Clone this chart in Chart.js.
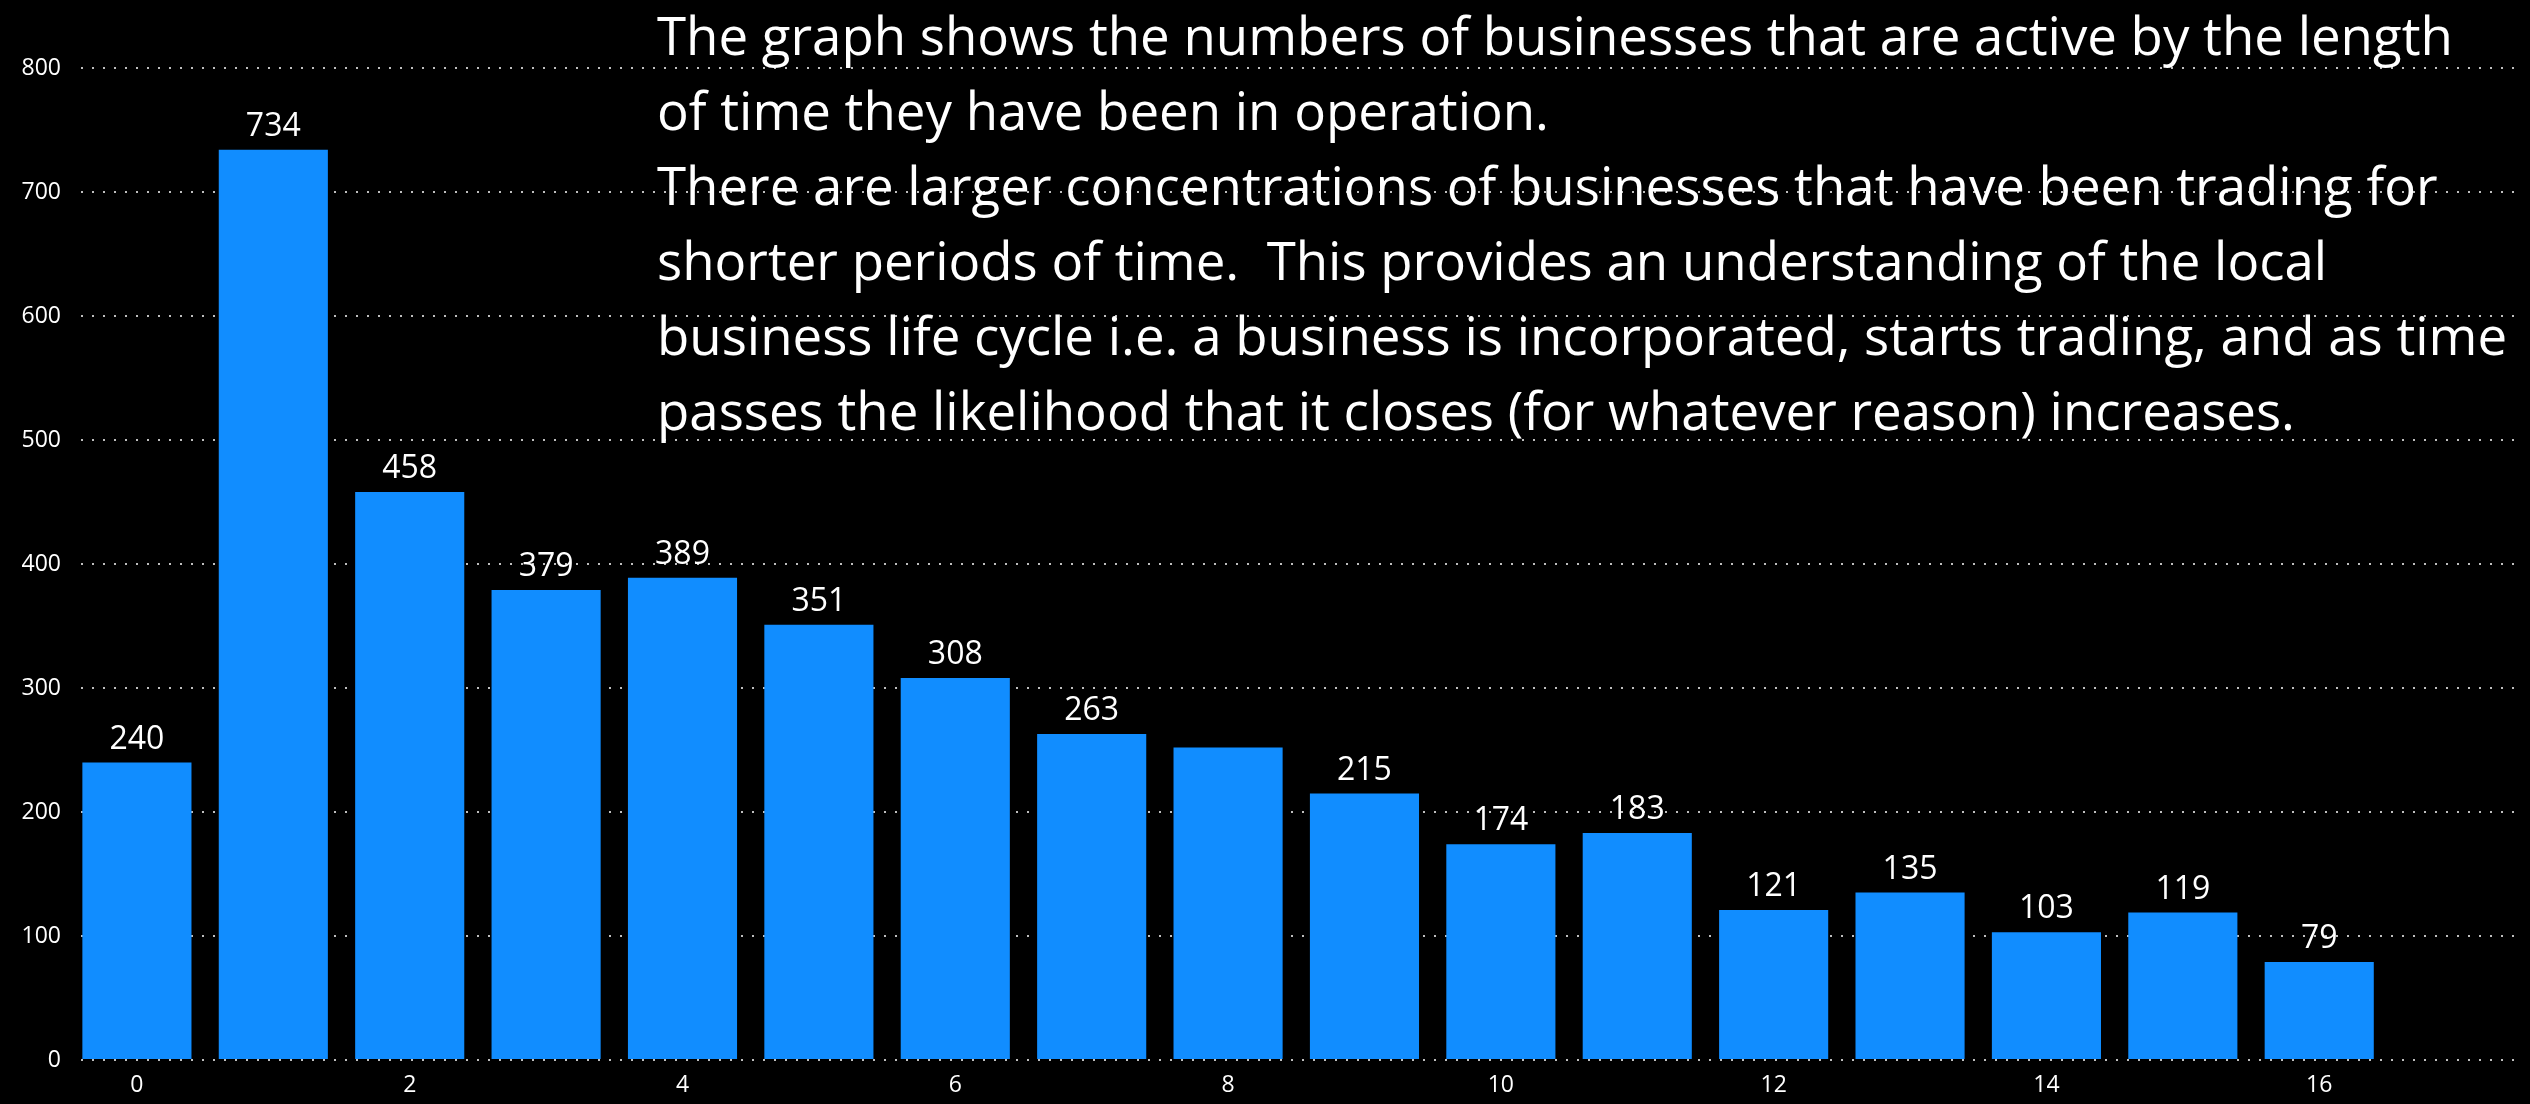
<!DOCTYPE html>
<html>
<head>
<meta charset="utf-8">
<script src="https://cdn.jsdelivr.net/npm/chart.js@4.4.1/dist/chart.umd.min.js"></script>
<style>
  html, body { margin: 0; padding: 0; background: #000; }
  #wrap { width: 2530px; height: 1104px; }
</style>
</head>
<body>
<div id="wrap"><canvas id="businessChart"></canvas></div>
<script>
// years in operation
const categories = [0, 1, 2, 3, 4, 5, 6, 7, 8, 9, 10, 11, 12, 13, 14, 15, 16];
const activeBusinesses = [240, 734, 458, 379, 389, 351, 308, 263, 252, 215, 174, 183, 121, 135, 103, 119, 79];
// the label for year 8 is not shown in the original
const hiddenLabels = [8];
const xTicks = [0, 2, 4, 6, 8, 10, 12, 14, 16];
const yTicks = [0, 100, 200, 300, 400, 500, 600, 700, 800];
const noteLines = [
    "The graph shows the numbers of businesses that are active by the length",
    "of time they have been in operation.",
    "There are larger concentrations of businesses that have been trading for",
    "shorter periods of time.  This provides an understanding of the local",
    "business life cycle i.e. a business is incorporated, starts trading, and as time",
    "passes the likelihood that it closes (for whatever reason) increases."
];

const FONT = "'Open Sans', 'Noto Sans', sans-serif";

// background + note text, drawn before the grid so the dotted lines go over it
const notePlugin = {
    id: "note",
    beforeDraw(chart) {
        const ctx = chart.ctx;
        ctx.save();
        ctx.fillStyle = "#000";
        ctx.fillRect(0, 0, chart.width, chart.height);
        ctx.font = `50px ${FONT}`;
        const w = ctx.measureText(noteLines[0]).width;
        const size = 50 * 1796 / w;
        ctx.font = `${size}px ${FONT}`;
        ctx.fillStyle = "#fff";
        ctx.textBaseline = "alphabetic";
        noteLines.forEach((line, i) => {
            ctx.fillText(line, 657, 55 + i * 75);
        });
        ctx.restore();
    }
};

const valueLabels = {
    id: "valueLabels",
    afterDatasetsDraw(chart) {
        const ctx = chart.ctx;
        const meta = chart.getDatasetMeta(0);
        ctx.save();
        ctx.font = `32px ${FONT}`;
        ctx.fillStyle = "#fff";
        ctx.textAlign = "center";
        ctx.textBaseline = "bottom";
        meta.data.forEach((bar, i) => {
            if (hiddenLabels.includes(categories[i])) return;
            ctx.fillText(activeBusinesses[i], bar.x, bar.y - 7);
        });
        ctx.restore();
    }
};

const ctx = document.getElementById("businessChart").getContext("2d");
new Chart(ctx, {
    type: "bar",
    data: {
        datasets: [{
            data: categories.map((c, i) => ({ x: c, y: activeBusinesses[i] })),
            backgroundColor: "#118DFF",
            borderWidth: 0,
            categoryPercentage: 1,
            barPercentage: 0.8
        }]
    },
    options: {
        responsive: true,
        maintainAspectRatio: false,
        animation: false,
        layout: { padding: { top: 68, right: 13, bottom: 0, left: 0 } },
        plugins: {
            legend: { display: false },
            tooltip: { enabled: false }
        },
        scales: {
            x: {
                type: "linear",
                min: -0.41,
                max: 17.45,
                offset: false,
                grid: { display: false, offset: false, drawTicks: false },
                border: { display: false },
                afterBuildTicks: (scale) => { scale.ticks = xTicks.map(v => ({ value: v })); },
                afterFit: (scale) => { scale.height = 44; },
                ticks: {
                    color: "#fff",
                    padding: 12,
                    maxRotation: 0,
                    autoSkip: false,
                    font: { family: FONT, size: 23 }
                }
            },
            y: {
                min: 0,
                max: 800,
                afterBuildTicks: (scale) => { scale.ticks = yTicks.map(v => ({ value: v })); },
                afterFit: (scale) => { scale.width = 81; },
                grid: {
                    color: "rgba(255,255,255,0.75)",
                    lineWidth: 2,
                    drawTicks: false
                },
                border: { display: false, dash: [2, 9] },
                ticks: {
                    color: "#fff",
                    padding: 20,
                    font: { family: FONT, size: 23 }
                }
            }
        }
    },
    plugins: [notePlugin, valueLabels]
});
</script>
</body>
</html>
